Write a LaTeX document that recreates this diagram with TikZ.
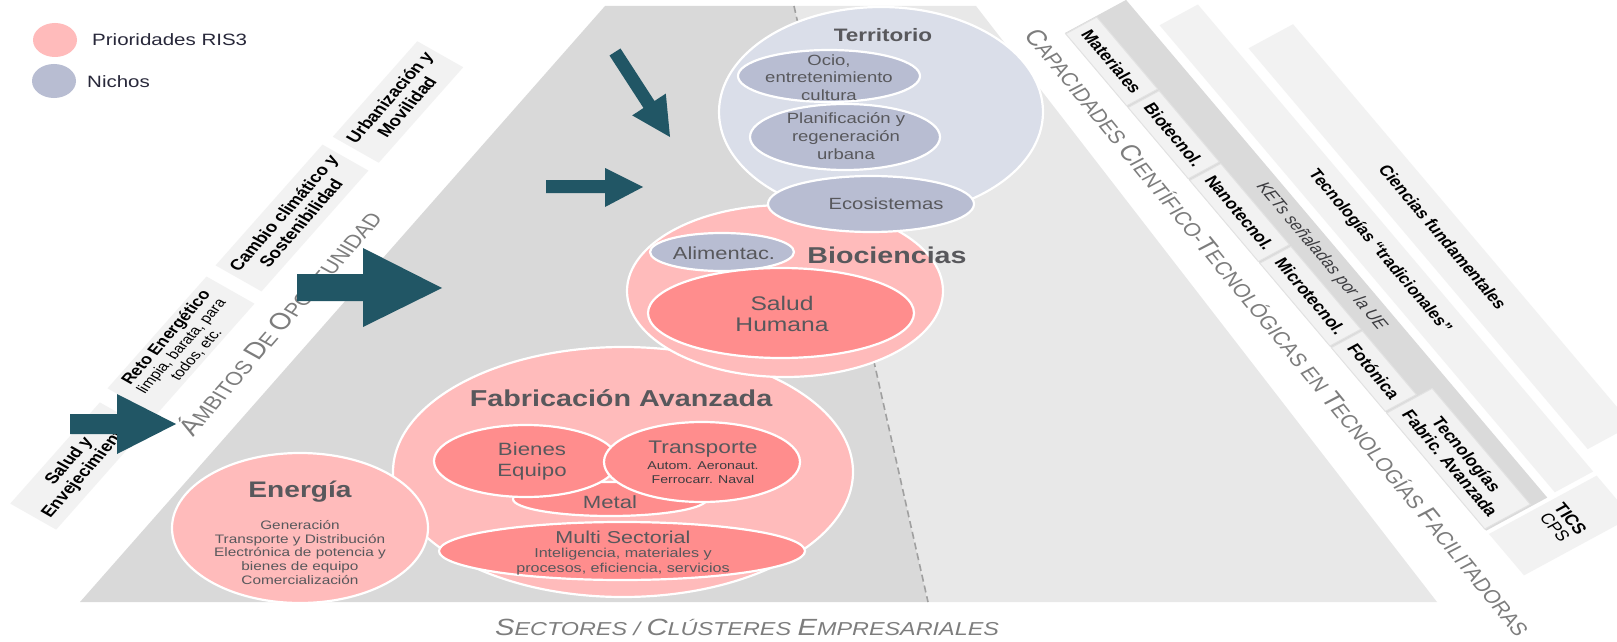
\documentclass[tikz,border=0pt]{standalone}
\usepackage{fontspec}
\setmainfont{Liberation Sans}
\newfontfamily\hf{Liberation Sans}[FakeStretch=1.25]
\usetikzlibrary{shapes.geometric}
\definecolor{cgA}{RGB}{217,217,217}
\definecolor{cgB}{RGB}{232,232,232}
\definecolor{cbox}{RGB}{242,242,242}
\definecolor{cboxline}{RGB}{226,226,226}
\definecolor{cket}{RGB}{218,218,218}
\definecolor{cpink}{RGB}{255,187,187}
\definecolor{cpinkd}{RGB}{255,141,141}
\definecolor{cterr}{RGB}{218,222,233}
\definecolor{cnich}{RGB}{184,189,210}
\definecolor{carrow}{RGB}{33,86,101}
\definecolor{ctxt}{RGB}{88,88,92}
\definecolor{ctxtd}{RGB}{60,60,64}
\definecolor{clab}{RGB}{125,125,125}
\definecolor{clegend}{RGB}{40,40,58}
\definecolor{cdash}{RGB}{160,160,160}
\newcommand{\fsz}[2]{\fontsize{#1}{#2}\selectfont}
\tikzset{
  ell/.style={ellipse, draw=white, line width=2.2pt, inner sep=0pt},
  htxt/.style={text=ctxt, align=center, inner sep=0pt},
  lbox/.style={fill=cbox, inner sep=0pt, align=center, text=black},
  kbox/.style={fill=cbox, draw=cboxline, line width=1pt, inner sep=0pt, align=center, text=black, font=\fsz{15}{16}\bfseries},
  arr/.style={fill=carrow},
}
\begin{document}
\begin{tikzpicture}[x=1pt,y=-1pt]
\useasboundingbox (0,0) rectangle (1617,642);
\fill[white] (0,0) rectangle (1617,642);
\begin{scope}
\clip (0,0) rectangle (1617,642);
% legend
\node[ellipse, fill=cpink, minimum width=44pt, minimum height=34pt, inner sep=0pt] (legP) at (55,40) {};
\node[anchor=west, text=clegend, font=\hf\fsz{16.4}{18}, inner sep=0pt] (legPt) at (92,40) {Prioridades RIS3};
\node[ellipse, fill=cnich, minimum width=44pt, minimum height=34pt, inner sep=0pt] (legN) at (54,81) {};
\node[anchor=west, text=clegend, font=\hf\fsz{16.4}{18}, inner sep=0pt] (legNt) at (87,82) {Nichos};
% gray areas
\fill[cgA] (80,602) -- (605,6) -- (794,6) -- (928,602) -- cycle;
\fill[cgB] (794,6) -- (976,6) -- (1437,602) -- (928,602) -- cycle;
\draw[cdash, line width=1.6pt, dash pattern=on 7pt off 4pt] (794,6) -- (928,602);
% left boxes
\begin{scope}[shift={(398,102)}, xscale=1.25, rotate=54.7, transform shape]
\node[lbox, minimum width=117pt, minimum height=45pt, font=\fsz{15.2}{17}\bfseries] (urb) at (0,0) {Urbanización y\\Movilidad};
\end{scope}
\begin{scope}[shift={(292,218)}, xscale=1.25, rotate=54.7, transform shape]
\node[lbox, minimum width=148pt, minimum height=45pt, font=\fsz{15.2}{17}\bfseries] (camb) at (0,0) {Cambio climático y\\Sostenibilidad};
\end{scope}
\begin{scope}[shift={(181,346)}, xscale=1.25, rotate=54.7, transform shape]
\node[lbox, minimum width=137pt, minimum height=47pt, font=\fsz{14.6}{14.6}\bfseries] (reto) at (0,0) {Reto Energético\\{\mdseries\fsz{13.2}{14.6}limpia, barata, para}\\{\mdseries\fsz{13.2}{14.6}todos, etc.}};
\end{scope}
\begin{scope}[shift={(78,466)}, xscale=1.25, rotate=54.7, transform shape]
\node[lbox, minimum width=124pt, minimum height=45pt, font=\fsz{15.2}{17}\bfseries] (salud) at (0,0) {Salud y\\Envejecimiento};
\end{scope}
\begin{scope}[shift={(278,322)}, xscale=1.25, rotate=55.2, transform shape]
\node[text=clab, inner sep=0pt] (amb) at (0,0) {\fsz{23.2}{24}Á\fsz{18.6}{24}MBITOS \fsz{23.2}{24}D\fsz{18.6}{24}E \fsz{23.2}{24}O\fsz{18.6}{24}PORTUNIDAD};
\end{scope}
% right bands
\begin{scope}[shift={(1065,33)}, xscale=1.25, rotate=-55.9, transform shape]
\fill[cket] (0,0) rectangle (601,-59);
\fill[cbox] (36,-67) rectangle (600,-104);
\fill[cbox] (95,-113) rectangle (579,-156);
\fill[cbox] (605,0) rectangle (655,-104);
\node[kbox, minimum width=87pt, minimum height=30pt] (mat) at (44.5,-15) {Materiales};
\node[kbox, minimum width=86pt, minimum height=30pt] (bio) at (133,-15) {Biotecnol.};
\node[kbox, minimum width=98pt, minimum height=30pt] (nano) at (227,-15) {Nanotecnol.};
\node[kbox, minimum width=100pt, minimum height=30pt] (micro) at (328,-15) {Microtecnol.};
\node[kbox, minimum width=77pt, minimum height=30pt] (foto) at (418.5,-15) {Fotónica};
\node[kbox, minimum width=140pt, minimum height=44pt] (tfa) at (529,-22) {Tecnologías\\Fabric. Avanzada};
\node[text=ctxtd, inner sep=0pt, font=\fsz{15}{16}\itshape] (ket) at (300,-44.5) {KETs señaladas por la UE};
\node[text=black, inner sep=0pt, font=\fsz{14.6}{16}\bfseries] (trad) at (322,-86) {Tecnologías “tradicionales”};
\node[text=black, inner sep=0pt, font=\fsz{14.9}{16}\bfseries] (cien) at (338.5,-136) {Ciencias fundamentales};
\node[text=black, inner sep=0pt, align=center, font=\fsz{15}{15}] (tics) at (629,-55) {\textbf{TICS}\\CPS};
\end{scope}
\begin{scope}[shift={(1278,332)}, xscale=1.25, rotate=-56.8, transform shape]
\node[text=clab, inner sep=0pt] (capa) at (0,0) {\fsz{22.3}{24}C\fsz{18.3}{24}APACIDADES \fsz{22.3}{24}C\fsz{18.3}{24}IENTÍFICO-\fsz{22.3}{24}T\fsz{18.3}{24}ECNOLÓGICAS EN \fsz{22.3}{24}T\fsz{18.3}{24}ECNOLOGÍAS \fsz{22.3}{24}F\fsz{18.3}{24}ACILITADORAS};
\end{scope}
% Fabricacion
\node[ell, fill=cpink, minimum width=460pt, minimum height=250pt] (fab) at (623,472) {};
\node[ell, fill=cpinkd, minimum width=194pt, minimum height=34pt] (metal) at (610,499) {};
\node[ell, fill=cpinkd, minimum width=184pt, minimum height=72pt] (bienes) at (526,461) {};
\node[ell, fill=cpinkd, minimum width=196pt, minimum height=80pt] (trans) at (702,462) {};
\node[ell, fill=cpinkd, minimum width=366pt, minimum height=58pt] (multi) at (622,551) {};
\node[htxt, font=\hf\fsz{23}{26}\bfseries] (fabT) at (621,398) {Fabricación Avanzada};
\node[htxt, font=\hf\fsz{17.8}{21}] (bienesT) at (532,461.5) {Bienes\\Equipo};
\node[htxt, font=\hf\fsz{18.2}{20}] (transT) at (703,449) {Transporte};
\node[htxt, text=ctxtd, font=\hf\fsz{11.3}{14}] (transS) at (703,473) {Autom. Aeronaut.\\Ferrocarr. Naval};
\node[htxt, font=\hf\fsz{17.7}{20}] (metalT) at (610,502) {Metal};
\node[htxt, font=\hf\fsz{17.2}{20}] (multiT) at (623,537) {Multi Sectorial};
\node[htxt, font=\hf\fsz{12.9}{15}] (multiS) at (623,561.5) {Inteligencia, materiales y\\procesos, eficiencia, servicios};
% Energia
\node[ell, fill=cpink, minimum width=256pt, minimum height=150pt] (ener) at (300,528) {};
\node[htxt, font=\hf\fsz{22.5}{25}\bfseries] (enerT) at (300,492) {Energía};
\node[htxt, font=\hf\fsz{12.3}{13.8}] (enerS) at (300,552.5) {Generación\\Transporte y Distribución\\Electrónica de potencia y\\bienes de equipo\\Comercialización};
% Biociencias
\node[ell, fill=cpink, minimum width=316pt, minimum height=172pt] (bioc) at (785,291) {};
\node[ell, fill=cnich, minimum width=144pt, minimum height=38pt] (alim) at (722,252) {};
\node[ell, fill=cpinkd, minimum width=266pt, minimum height=90pt] (shum) at (781,313) {};
\node[htxt, font=\hf\fsz{22.9}{25}\bfseries] (biocT) at (887,255) {Biociencias};
\node[htxt, font=\hf\fsz{17.5}{20}] (alimT) at (724,253) {Alimentac.};
\node[htxt, font=\hf\fsz{19.7}{21.7}] (shumT) at (782,314) {Salud\\Humana};
% Territorio
\node[ell, fill=cterr, minimum width=324pt, minimum height=210pt] (terr) at (881,112) {};
\node[ell, fill=cnich, minimum width=182pt, minimum height=52pt] (ocio) at (829,76) {};
\node[ell, fill=cnich, minimum width=190pt, minimum height=66pt] (plan) at (845,137) {};
\node[ell, fill=cnich, minimum width=206pt, minimum height=56pt] (ecos) at (871,204) {};
\node[htxt, font=\hf\fsz{18}{20}\bfseries] (terrT) at (883,35) {Territorio};
\node[htxt, font=\hf\fsz{14.8}{17.7}] (ocioT) at (829,77.5) {Ocio,\\entretenimiento\\cultura};
\node[htxt, font=\hf\fsz{14.8}{17.7}] (planT) at (846,136) {Planificación y\\regeneración\\urbana};
\node[htxt, font=\hf\fsz{16.2}{18}] (ecosT) at (886,204) {Ecosistemas};
% bottom label
\node[text=clab, inner sep=0pt, font=\hf\itshape] (sect) at (747,627) {\fsz{23.4}{26}S\fsz{18.7}{26}ECTORES / \fsz{23.4}{26}C\fsz{18.7}{26}LÚSTERES \fsz{23.4}{26}E\fsz{18.7}{26}MPRESARIALES};
% arrows
\fill[arr] (70,414) -- (117,414) -- (117,394) -- (176,424) -- (117,454) -- (117,434) -- (70,434) -- cycle;
\fill[arr] (297,274) -- (363,274) -- (363,248) -- (442,288) -- (363,327) -- (363,301) -- (297,301) -- cycle;
\fill[arr] (546,180) -- (605,180) -- (605,168) -- (643,187) -- (605,207) -- (605,193) -- (546,193) -- cycle;
\fill[arr] (620.5,48.5) -- (654.5,101) -- (665.8,93.6) -- (670,137) -- (632.2,115.4) -- (643.5,108) -- (609.5,55.5) -- cycle;
\end{scope}
\end{tikzpicture}
\end{document}
